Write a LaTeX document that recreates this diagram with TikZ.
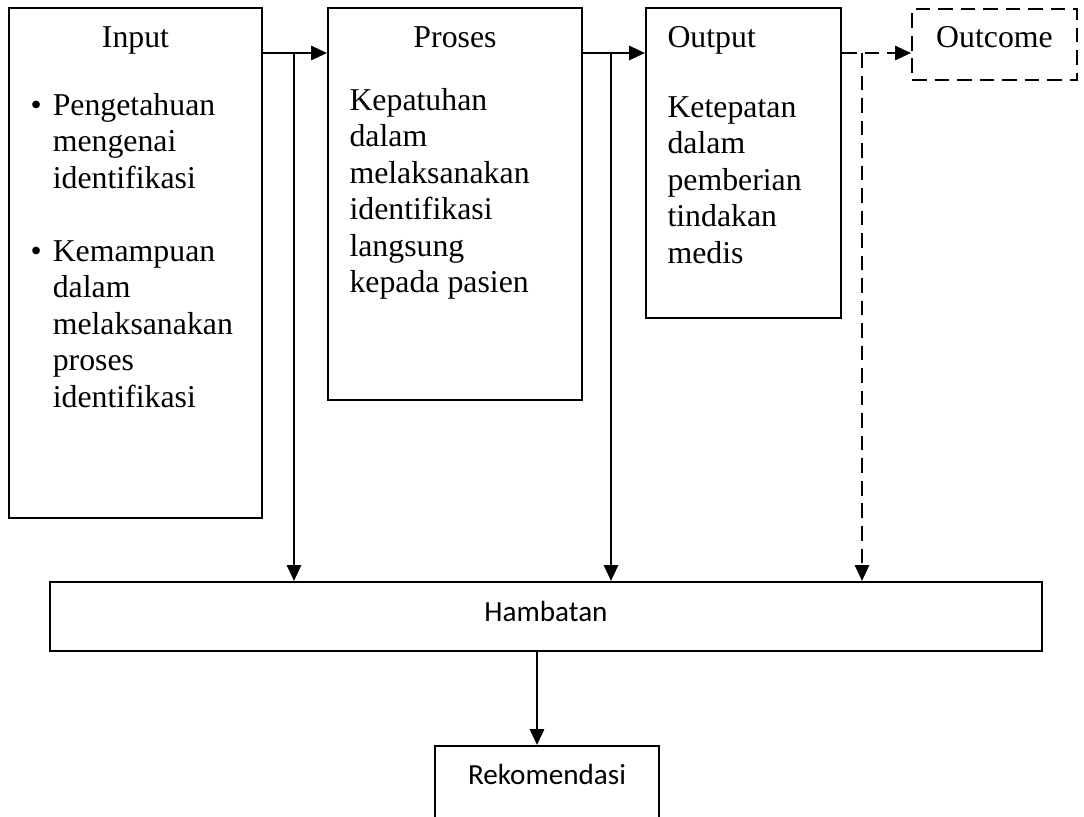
\documentclass[tikz,border=0pt]{standalone}
\usepackage{fontspec}
\setmainfont{Liberation Serif}
\newfontfamily\calibrifont{Carlito}
\usetikzlibrary{positioning, arrows.meta, fit}

\begin{document}
\begin{tikzpicture}[
    x=0.3774pt, y=-0.3774pt,
    font=\fontsize{12}{13.8}\selectfont,
    box/.style={draw, line width=0.75pt, inner sep=0pt},
    dashbox/.style={box, dash pattern=on 5.5pt off 3pt},
    title/.style={anchor=base, inner sep=0pt},
    body/.style={anchor=base west, inner sep=0pt},
    small/.style={anchor=base, inner sep=0pt, font=\calibrifont\fontsize{11}{13.4}\selectfont},
    arrow/.style={-{Triangle[length=6pt, width=5.3pt]}, line width=1pt},
    dasharrow/.style={arrow, dash pattern=on 5.5pt off 3pt},
]
\useasboundingbox (0,0) rectangle (1084,817);
\clip (0,0) rectangle (1084,817);

% Boxes
\node[box, fit={(9,8) (262,518)}] (input) {};
\node[box, fit={(328,8) (582,400)}] (proses) {};
\node[box, fit={(646,8) (841,318)}] (output) {};
\node[dashbox, fit={(912,9) (1077,80)}] (outcome) {};
\node[box, fit={(50,582) (1042,651)}] (hambatan) {};
\node[box, fit={(435,746) (659,840)}] (rekomendasi) {};

% Titles
\node[title] (inputtitle) at (135.5,47.5) {Input};
\node[title] (prosestitle) at (455,47.5) {Proses};
\node[body] (outputtitle) at (667,47.5) {Output};
\node[title] (outcometitle) at (994.5,47) {Outcome};

% Box texts
\node[body] (inputtext) at (30,115) {\begin{tabular}[t]{@{}l@{\hspace{4.2pt}}l@{}}
    \textbullet & Pengetahuan\\
     & mengenai\\
     & identifikasi\\[13.8pt]
    \textbullet & Kemampuan\\
     & dalam\\
     & melaksanakan\\
     & proses\\
     & identifikasi
\end{tabular}};
\node[body] (prosestext) at (349,110) {\begin{tabular}[t]{@{}l@{}}
    Kepatuhan\\ dalam\\ melaksanakan\\ identifikasi\\ langsung\\ kepada pasien
\end{tabular}};
\node[body] (outputtext) at (667,117) {\begin{tabular}[t]{@{}l@{}}
    Ketepatan\\ dalam\\ pemberian\\ tindakan\\ medis
\end{tabular}};
\node[small] (hambatantext) at (546,621) {Hambatan};
\node[small] (rekomendasitext) at (547,784) {Rekomendasi};

% Junctions
\coordinate (j1) at (294,53);
\coordinate (j2) at (611,53);
\coordinate (j3) at (862,53);
\coordinate (j4) at (537,700);

% Connectors
\draw[arrow] (input.east |- j1) -- (proses.west |- j1);
\draw[arrow] (proses.east |- j2) -- (output.west |- j2);
\draw[dasharrow] (output.east |- j3) -- (outcome.west |- j3);
\draw[arrow] (j1) -- (j1 |- hambatan.north);
\draw[arrow] (j2) -- (j2 |- hambatan.north);
\draw[dasharrow] (j3) -- (j3 |- hambatan.north);
\draw[arrow] (j4 |- hambatan.south) -- (j4 |- rekomendasi.north);

\end{tikzpicture}
\end{document}
